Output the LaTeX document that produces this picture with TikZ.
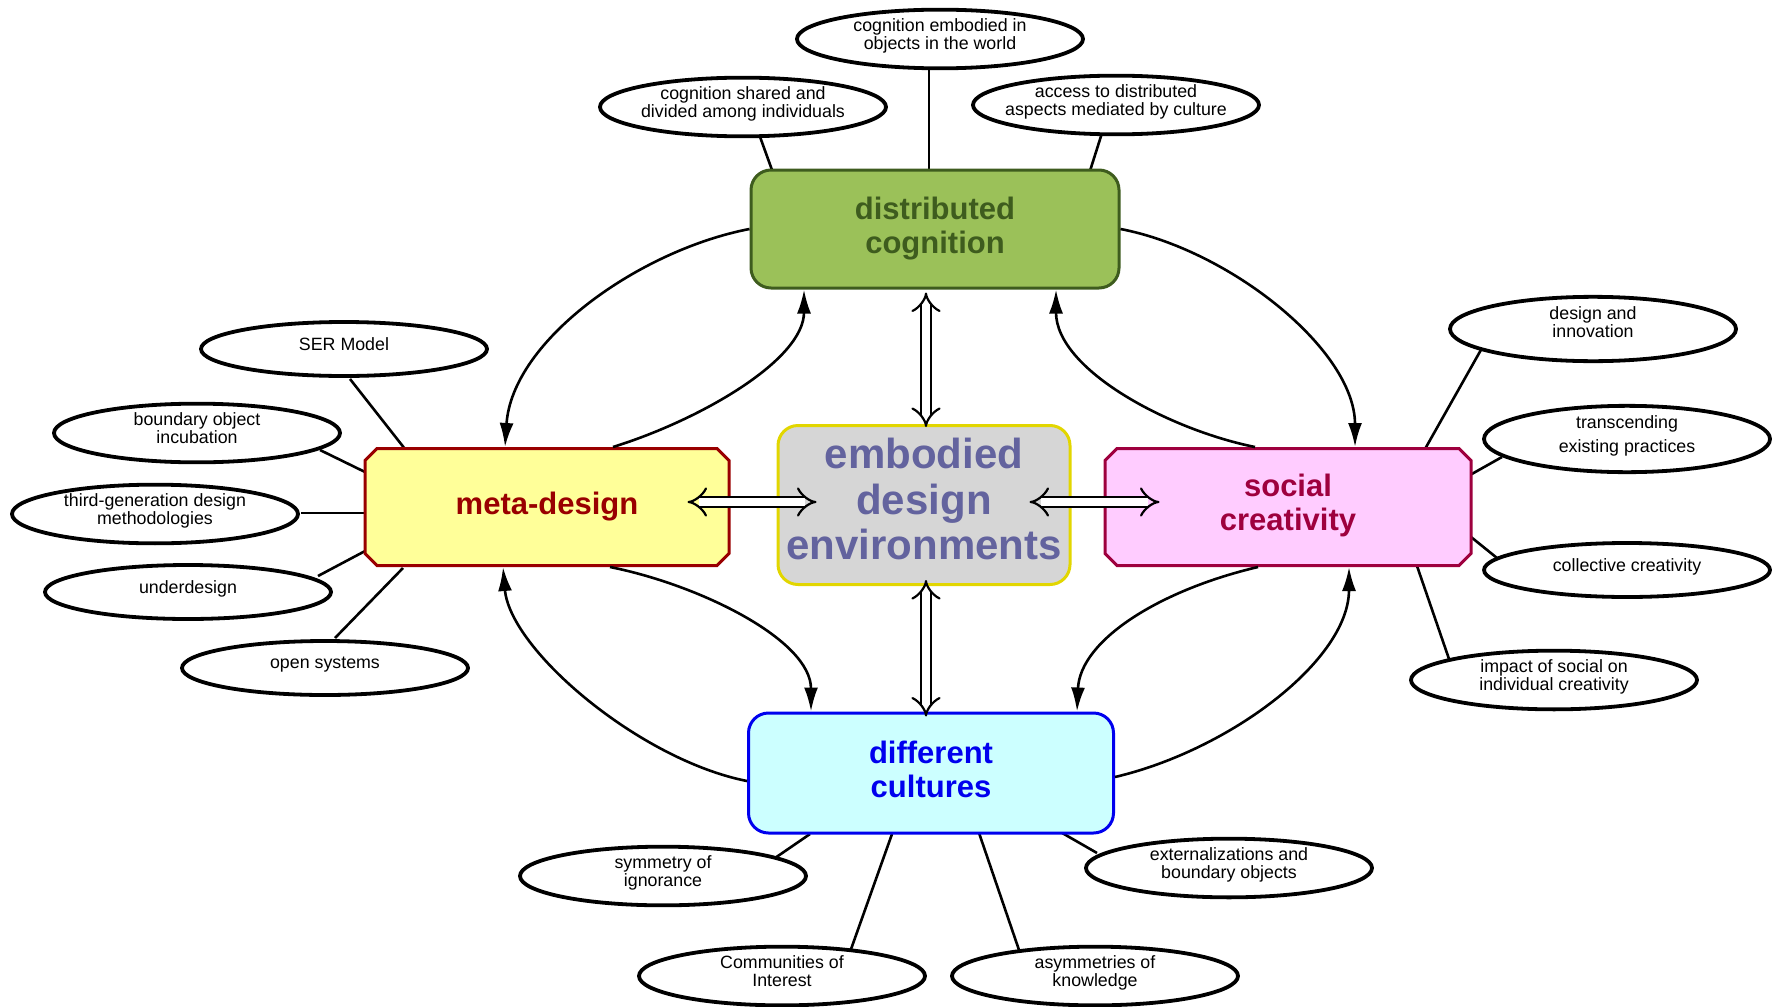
\documentclass[tikz,border=0pt]{standalone}
\usepackage{fontspec}
\setmainfont{Liberation Sans}
\usetikzlibrary{arrows.meta,calc,shapes.geometric,shapes.misc,backgrounds}

\definecolor{dcfill}{RGB}{155,193,89}
\definecolor{dcline}{RGB}{62,92,30}
\definecolor{edfill}{RGB}{214,214,214}
\definecolor{edline}{RGB}{226,214,0}
\definecolor{edtext}{RGB}{99,99,158}
\definecolor{mdfill}{RGB}{255,255,153}
\definecolor{mdline}{RGB}{153,0,0}
\definecolor{scfill}{RGB}{255,204,255}
\definecolor{scline}{RGB}{158,0,62}
\definecolor{dffill}{RGB}{204,255,255}
\definecolor{dfline}{RGB}{0,0,238}

\tikzset{
  hub/.style={draw, line width=1.5pt, inner sep=0pt, align=center,
    font=\bfseries\fontsize{15.5}{17}\selectfont},
  roundhub/.style={hub, rectangle, rounded corners=10pt},
  chamhub/.style={hub, chamfered rectangle, chamfered rectangle xsep=3pt,
    chamfered rectangle ysep=3pt},
  idea/.style={ellipse, draw, fill=white, line width=1.9pt, minimum width=143pt,
    minimum height=27pt, inner xsep=-6pt, inner ysep=0pt, align=center, text depth=5pt,
    font=\fontsize{8.9}{9.3}\selectfont},
  link/.style={line width=1.3pt},
  flow/.style={line width=1.3pt, -{Latex[length=12pt,width=7pt]}},
  twin/.style={double, double distance=4pt, line width=1.1pt,
    {Implies[scale=1.6]}-{Implies[scale=1.6]}}
}

\begin{document}
\begin{tikzpicture}[x=0.5pt, y=-0.5pt]
\useasboundingbox (0,0) rectangle (1781,1006);

% central hub and the four themes
\node[roundhub, fill=edfill, draw=edline, text=edtext, minimum width=146pt,
  minimum height=79.5pt, text depth=6pt, font=\bfseries\fontsize{21}{22.7}\selectfont]
  (ed) at (924,505) {embodied\\design\\environments};
\node[roundhub, fill=dcfill, draw=dcline, text=dcline, minimum width=184pt,
  minimum height=59pt] (dc) at (935,229) {distributed\\cognition};
\node[chamhub, fill=mdfill, draw=mdline, text=mdline, minimum width=182pt,
  minimum height=58.5pt] (md) at (547,507) {meta-design};
\node[chamhub, fill=scfill, draw=scline, text=scline, minimum width=183pt,
  minimum height=58.5pt, text depth=5pt] (sc) at (1288,507) {social\\creativity};
\node[roundhub, fill=dffill, draw=dfline, text=dfline, minimum width=182.5pt,
  minimum height=60pt, text depth=4pt] (dfc) at (931,773) {different\\cultures};

% satellite ideas
\node[idea] (eo)  at (940,39)   {cognition embodied in\\objects in the world};
\node[idea] (sh)  at (743,107)  {cognition shared and\\divided among individuals};
\node[idea] (ac)  at (1116,105) {access to distributed\\aspects mediated by culture};
\node[idea] (ser) at (344,349)  {SER Model};
\node[idea] (boi) at (197,433)  {boundary object\\incubation};
\node[idea] (tgd) at (155,514)  {third-generation design\\methodologies};
\node[idea] (und) at (188,592)  {underdesign};
\node[idea] (ops) at (325,668)  {open systems};
\node[idea, text depth=7pt] (din) at (1593,329) {design and\\innovation};
\node[idea, font=\fontsize{8.9}{12}\selectfont] (tep) at (1627,439) {transcending\\existing practices};
\node[idea] (cc)  at (1627,570) {collective creativity};
\node[idea] (isc) at (1554,680) {impact of social on\\individual creativity};
\node[idea] (soi) at (663,876)  {symmetry of\\ignorance};
\node[idea] (coi) at (782,976)  {Communities of\\Interest};
\node[idea] (aok) at (1095,976) {asymmetries of\\knowledge};
\node[idea] (ebo) at (1229,868) {externalizations and\\boundary objects};

% spokes from each theme to its ideas
\begin{scope}[on background layer]
\draw[link] ($(sh)+(16,27)$)    -- ($(dc)+(-163,-59)$);
\draw[link] ($(eo)+(-11,26)$)   -- ($(dc)+(-6,-59)$);
\draw[link] ($(ac)+(-14,28)$)   -- ($(dc)+(154,-55)$);
\draw[link] ($(ser)+(6,30)$)    -- ($(md)+(-142,-58)$);
\draw[link] ($(boi)+(123,17)$)  -- ($(md)+(-182,-35)$);
\draw[link] ($(tgd)+(146,-1)$)  -- ($(md)+(-182,6)$);
\draw[link] ($(und)+(130,-16)$) -- ($(md)+(-180,43)$);
\draw[link] ($(ops)+(10,-30)$)  -- ($(md)+(-144,61)$);
\draw[link] ($(din)+(-111,19)$) -- ($(sc)+(137,-58)$);
\draw[link] ($(tep)+(-125,18)$) -- ($(sc)+(182,-32)$);
\draw[link] ($(cc)+(-130,-12)$) -- ($(sc)+(183,30)$);
\draw[link] ($(isc)+(-105,-21)$) -- ($(sc)+(129,59)$);
\draw[link] ($(soi)+(112,-18)$) -- ($(dfc)+(-121,61)$);
\draw[link] ($(coi)+(68,-24)$)  -- ($(dfc)+(-39,61)$);
\draw[link] ($(aok)+(-76,-26)$) -- ($(dfc)+(47,57)$);
\draw[link] ($(ebo)+(-132,-15)$) -- ($(dfc)+(126,57)$);
\end{scope}

% curved flows between the themes
\draw[flow] (dc.west) .. controls (640,250) and (512,340) .. ($(md.north)+(-42,0)$);
\draw[flow] ($(md.north)+(66,0)$) .. controls (700,420) and (804,360) .. ($(dc.south)+(-131,0)$);
\draw[flow] (dc.east) .. controls (1230,250) and (1355,350) .. ($(sc.north)+(67,0)$);
\draw[flow] ($(sc.north)+(-33,0)$) .. controls (1170,430) and (1056,370) .. ($(dc.south)+(121,0)$);
\draw[flow] ($(md.south)+(63,0)$) .. controls (700,585) and (811,640) .. ($(dfc.north)+(-120,0)$);
\draw[flow] ($(dfc.west)+(0,8)$) .. controls (640,760) and (510,650) .. ($(md.south)+(-44,0)$);
\draw[flow] ($(sc.south)+(-30,0)$) .. controls (1160,590) and (1080,640) .. ($(dfc.north)+(146,0)$);
\draw[flow] ($(dfc.east)+(0,4)$) .. controls (1230,750) and (1349,660) .. ($(sc.south)+(61,0)$);

% two-way links with the hub
\draw[twin] ($(md.east)+(-43,-5)$) -- ($(ed.west)+(40,-3)$);
\draw[twin] ($(ed.east)+(-42,-3)$) -- ($(sc.west)+(56,-5)$);
\draw[twin] ($(dc.south)+(-9,3)$) -- ($(ed.north)+(2,3)$);
\draw[twin] ($(ed.south)+(2,-6)$) -- ($(dfc.north)+(-5,5)$);
\end{tikzpicture}
\end{document}
